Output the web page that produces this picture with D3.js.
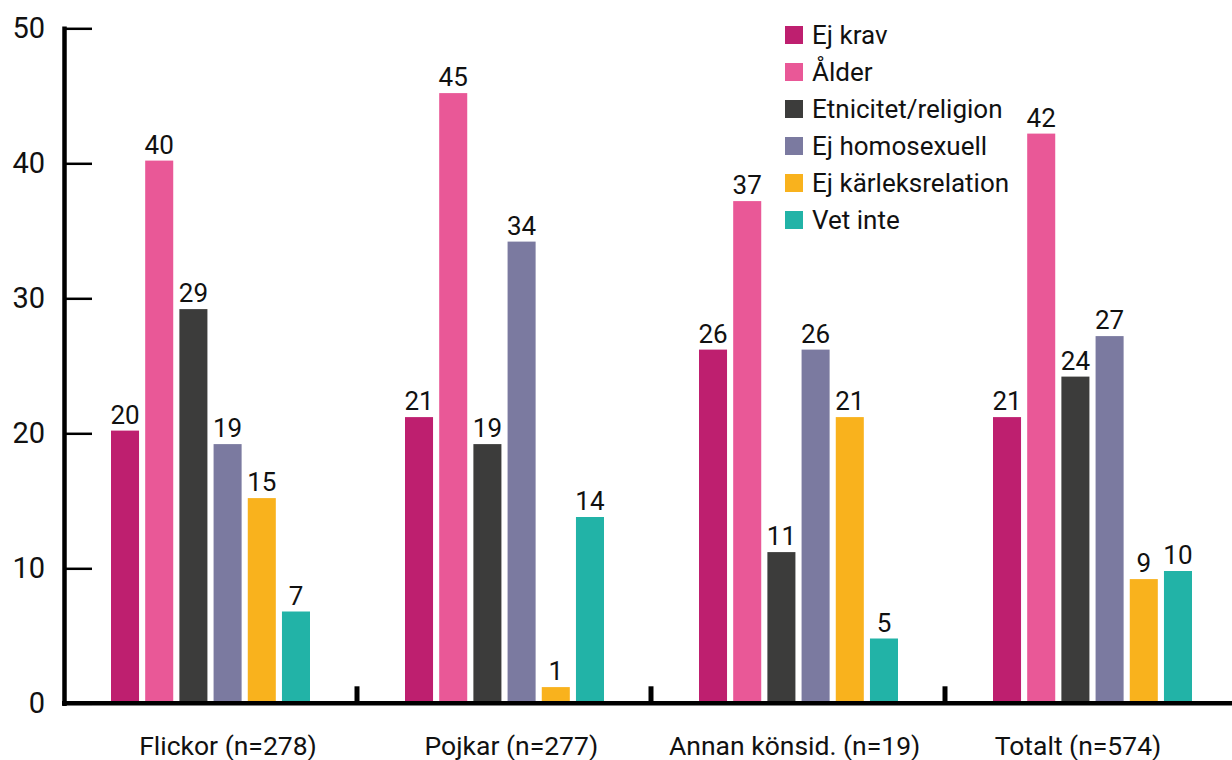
<!DOCTYPE html>
<html>
<head>
<meta charset="utf-8">
<script src="https://cdn.jsdelivr.net/npm/d3@7"></script>
<style>
  body { margin: 0; background: #fff; }
  svg { display: block; font-family: Roboto, "Noto Sans", sans-serif; }
</style>
</head>
<body>
<div id="vis1"></div>
<script>
const WIDTH = 1232;
const HEIGHT = 760;

const categories = ["Flickor (n=278)", "Pojkar (n=277)", "Annan könsid. (n=19)", "Totalt (n=574)"];
const series = ["Ej krav", "Ålder", "Etnicitet/religion", "Ej homosexuell", "Ej kärleksrelation", "Vet inte"];
const colors = ["#be1f6f", "#e95897", "#3c3c3b", "#7b7aa0", "#f9b21d", "#22b3a7"];

const flickor = [20.2, 40.2, 29.2, 19.2, 15.2, 6.8];
const pojkar = [21.2, 45.2, 19.2, 34.2, 1.2, 13.8];
const annan = [26.2, 37.2, 11.2, 26.2, 21.2, 4.8];
const totalt = [21.2, 42.2, 24.2, 27.2, 9.2, 9.8];
const yTicks = [0, 10, 20, 30, 40, 50];

const groups = [flickor, pojkar, annan, totalt];

const svg = d3.select("#vis1")
  .append("svg")
    .attr("width", WIDTH)
    .attr("height", HEIGHT);

const Y_SCALE = d3.scaleLinear().domain([0, 50]).range([703.3, 28.3]);
const X0 = d3.scaleBand().domain(categories).range([63, 1239]).padding(0);
const X1 = d3.scaleBand().domain(series).range([48, 247]).paddingInner(0.18).paddingOuter(0);
const COLOR = d3.scaleOrdinal().domain(series).range(colors);
// category labels sit a bit off the band centres in the original
const LABEL_X = d3.scalePoint().domain(categories).range([228, 1078]);

// bars
const g = svg.selectAll(".grp")
  .data(categories)
  .enter().append("g")
    .attr("class", "grp")
    .attr("transform", d => "translate(" + X0(d) + ",0)");

g.selectAll("rect")
  .data((d, i) => groups[i].map((v, j) => ({key: series[j], value: v})))
  .enter().append("rect")
    .attr("x", d => X1(d.key))
    .attr("y", d => Y_SCALE(d.value))
    .attr("width", X1.bandwidth())
    .attr("height", d => Y_SCALE(0) - Y_SCALE(d.value))
    .attr("fill", d => COLOR(d.key));

g.selectAll("text")
  .data((d, i) => groups[i].map((v, j) => ({key: series[j], value: v})))
  .enter().append("text")
    .attr("x", d => X1(d.key) + X1.bandwidth() / 2)
    .attr("y", d => Y_SCALE(d.value) - 7)
    .attr("text-anchor", "middle")
    .attr("font-size", 26)
    .attr("fill", "#111")
    .text(d => Math.round(d.value));

// y axis
const yAxis = svg.append("g")
  .attr("transform", "translate(64,0)")
  .call(d3.axisLeft(Y_SCALE).tickValues(yTicks).tickSizeInner(-28).tickSizeOuter(0).tickPadding(19));
yAxis.select(".domain").attr("stroke", "#000").attr("stroke-width", 4.5).attr("stroke-linecap", "square");
yAxis.selectAll(".tick line").attr("stroke", "#000").attr("stroke-width", 2.5);
yAxis.selectAll(".tick text").attr("font-size", 29).attr("fill", "#111").attr("font-family", "Roboto, sans-serif");

// x axis
svg.append("line")
  .attr("x1", 62).attr("x2", WIDTH)
  .attr("y1", Y_SCALE(0)).attr("y2", Y_SCALE(0))
  .attr("stroke", "#000").attr("stroke-width", 4.5);

svg.selectAll(".sep")
  .data(categories.slice(1))
  .enter().append("line")
    .attr("class", "sep")
    .attr("x1", d => X0(d)).attr("x2", d => X0(d))
    .attr("y1", Y_SCALE(0)).attr("y2", Y_SCALE(0) - 17)
    .attr("stroke", "#000").attr("stroke-width", 5);

svg.selectAll(".cat")
  .data(categories)
  .enter().append("text")
    .attr("class", "cat")
    .attr("x", d => LABEL_X(d))
    .attr("y", 755)
    .attr("text-anchor", "middle")
    .attr("font-size", 26.5)
    .attr("fill", "#111")
    .text(d => d);

// legend
const legend = svg.selectAll(".leg")
  .data(series)
  .enter().append("g")
    .attr("class", "leg")
    .attr("transform", (d, i) => "translate(785," + (35 + i * 37) + ")");

legend.append("rect")
  .attr("x", 0).attr("y", -9)
  .attr("width", 18).attr("height", 18)
  .attr("fill", d => COLOR(d));

legend.append("text")
  .attr("x", 27).attr("y", 0)
  .attr("dy", "0.35em")
  .attr("font-size", 26)
  .attr("fill", "#111")
  .text(d => d);
</script>
</body>
</html>
